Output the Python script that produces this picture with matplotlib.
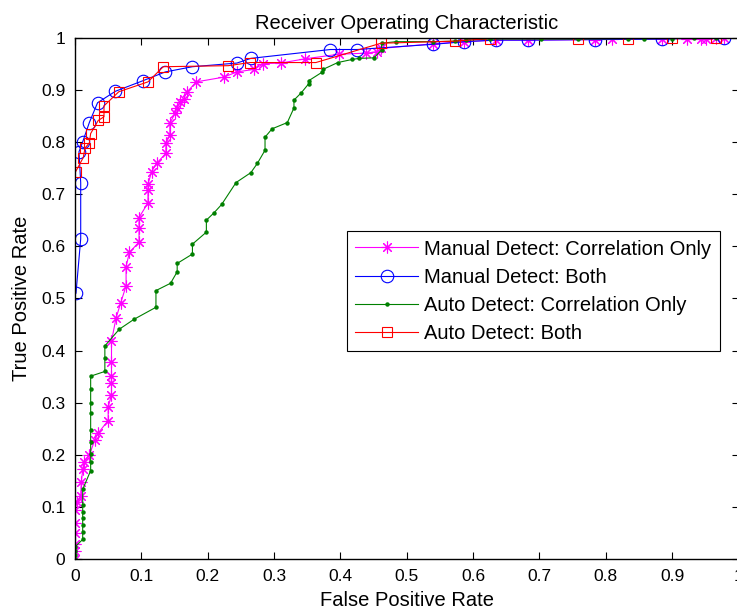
import matplotlib
matplotlib.use('Agg')
import matplotlib.pyplot as plt

# ROC points
manual_corr_fpr = [0.0, 0.0, 0.0, 0.0, 0.0, 0.0, 0.003, 0.0086, 0.0095, 0.012, 0.0136,
                   0.0216, 0.030, 0.035, 0.050, 0.050, 0.055, 0.055, 0.055, 0.055, 0.055,
                   0.0618, 0.069, 0.077, 0.077, 0.082, 0.0965, 0.0965, 0.0965, 0.110, 0.110,
                   0.110, 0.1155, 0.123, 0.137, 0.137, 0.143, 0.143, 0.151, 0.153, 0.159,
                   0.164, 0.169, 0.183, 0.224, 0.244, 0.270, 0.284, 0.310, 0.346, 0.398,
                   0.439, 0.455, 0.461, 0.540, 0.587, 0.634, 0.682, 0.783, 0.810, 0.884,
                   0.922, 0.943, 0.951, 0.966, 0.978]
manual_corr_tpr = [0.0, 0.015, 0.03, 0.05, 0.07, 0.095, 0.11, 0.121, 0.149, 0.174, 0.187,
                   0.200, 0.229, 0.242, 0.266, 0.292, 0.315, 0.337, 0.352, 0.378, 0.418,
                   0.462, 0.492, 0.524, 0.561, 0.588, 0.608, 0.634, 0.655, 0.683, 0.708,
                   0.719, 0.743, 0.759, 0.778, 0.797, 0.813, 0.836, 0.855, 0.864, 0.877,
                   0.883, 0.896, 0.915, 0.924, 0.934, 0.939, 0.950, 0.951, 0.959, 0.968,
                   0.970, 0.973, 0.979, 0.988, 0.992, 0.995, 0.995, 0.996, 0.997, 0.997,
                   0.998, 0.998, 0.998, 0.999, 1.0]

manual_both_fpr = [0.0015, 0.0086, 0.0086, 0.0060, 0.0116, 0.0216, 0.034, 0.061, 0.102,
                   0.136, 0.177, 0.244, 0.265, 0.385, 0.4255, 0.540, 0.587, 0.634, 0.682,
                   0.783, 0.884, 0.978]
manual_both_tpr = [0.510, 0.614, 0.722, 0.781, 0.800, 0.837, 0.875, 0.897, 0.917,
                   0.934, 0.944, 0.951, 0.960, 0.977, 0.977, 0.987, 0.992, 0.995, 0.995,
                   0.996, 0.997, 1.0]

auto_corr_fpr = [0.0, 0.0, 0.0, 0.0, 0.0116, 0.0116, 0.0116, 0.0116, 0.0116, 0.0116,
                 0.0116, 0.0236, 0.0236, 0.0236, 0.0236, 0.0236, 0.0236, 0.0236, 0.0236,
                 0.0236, 0.045, 0.045, 0.045, 0.0668, 0.089, 0.122, 0.122, 0.144, 0.154,
                 0.154, 0.177, 0.177, 0.198, 0.198, 0.2095, 0.221, 0.2427, 0.265, 0.275,
                 0.2864, 0.2864, 0.297, 0.320, 0.330, 0.330, 0.341, 0.352, 0.352, 0.373,
                 0.374, 0.396, 0.418, 0.4285, 0.4506, 0.462, 0.462, 0.484, 0.540, 0.572,
                 0.589, 0.626, 0.703, 0.758, 0.834, 0.857, 0.900, 0.933, 0.966]
auto_corr_tpr = [0.0, 0.008, 0.016, 0.024, 0.038, 0.053, 0.066, 0.080, 0.091, 0.104,
                 0.134, 0.170, 0.187, 0.202, 0.225, 0.248, 0.281, 0.299, 0.326,
                 0.351, 0.360, 0.385, 0.409, 0.441, 0.460, 0.483, 0.515, 0.529, 0.551,
                 0.567, 0.585, 0.604, 0.627, 0.650, 0.664, 0.680, 0.722, 0.741, 0.759,
                 0.784, 0.809, 0.825, 0.837, 0.865, 0.880, 0.894, 0.911, 0.917, 0.934,
                 0.939, 0.952, 0.958, 0.960, 0.961, 0.976, 0.989, 0.992, 0.992, 0.993,
                 0.995, 0.997, 0.997, 0.997, 0.998, 0.998, 0.998, 0.999, 0.999]

auto_both_fpr = [0.001, 0.0125, 0.015, 0.0216, 0.0236, 0.035, 0.0437, 0.0437, 0.066,
                 0.110, 0.133, 0.231, 0.264, 0.363, 0.461, 0.572, 0.625, 0.758, 0.834,
                 0.900, 0.966]
auto_both_tpr = [0.743, 0.770, 0.788, 0.798, 0.816, 0.841, 0.848, 0.869, 0.896,
                 0.915, 0.944, 0.946, 0.952, 0.952, 0.989, 0.993, 0.998, 0.998, 0.998,
                 0.999, 1.0]

x_ticks = [0, 0.1, 0.2, 0.3, 0.4, 0.5, 0.6, 0.7, 0.8, 0.9, 1]
x_tick_labels = ['0', '0.1', '0.2', '0.3', '0.4', '0.5', '0.6', '0.7', '0.8', '0.9', '1']

plt.rcParams['font.family'] = ['Liberation Sans', 'DejaVu Sans']
plt.rcParams['font.size'] = 12.5

fig = plt.figure(figsize=(7.37, 6.15), dpi=100)
ax = fig.add_axes([75 / 737, 55.7 / 615, 663.5 / 737, 521.8 / 615])

asterisk = (8, 2, 0)
ax.plot(manual_corr_fpr, manual_corr_tpr, color='#ff00ff', lw=0.8, marker=asterisk,
        ms=8.5, mew=0.8, label='Manual Detect: Correlation Only')
ax.plot(manual_both_fpr, manual_both_tpr, color='#0000ff', lw=0.8, marker='o',
        ms=9, mfc='none', mew=0.8, label='Manual Detect: Both')
ax.plot(auto_corr_fpr, auto_corr_tpr, color='#008000', lw=0.8, marker='o',
        ms=3.2, mew=0, label='Auto Detect: Correlation Only')
ax.plot(auto_both_fpr, auto_both_tpr, color='#ff0000', lw=0.8, marker='s',
        ms=7.5, mfc='none', mew=0.8, label='Auto Detect: Both')

ax.set_xlim(0, 1)
ax.set_ylim(0, 1)
ax.set_xticks(x_ticks)
ax.set_xticklabels(x_tick_labels)
ax.set_yticks(x_ticks)
ax.set_yticklabels(x_tick_labels)
ax.tick_params(direction='in', length=5, width=0.8, top=True, right=True, pad=7,
               labelsize=12.5)
for s in ax.spines.values():
    s.set_linewidth(1.0)

ax.set_title('Receiver Operating Characteristic', fontsize=14.5, pad=6)
ax.set_xlabel('False Positive Rate', fontsize=14.5, labelpad=5)
ax.set_ylabel('True Positive Rate', fontsize=14.5, labelpad=7)

leg = ax.legend(loc='upper left', bbox_to_anchor=(0.41, 0.629), borderaxespad=0,
                fancybox=False, edgecolor='black', framealpha=1, numpoints=1,
                fontsize=14.5, handlelength=3.1, handletextpad=0.3,
                labelspacing=0.45, borderpad=0.42)
leg.get_frame().set_linewidth(0.8)

fig.savefig('out.png', dpi=100)
